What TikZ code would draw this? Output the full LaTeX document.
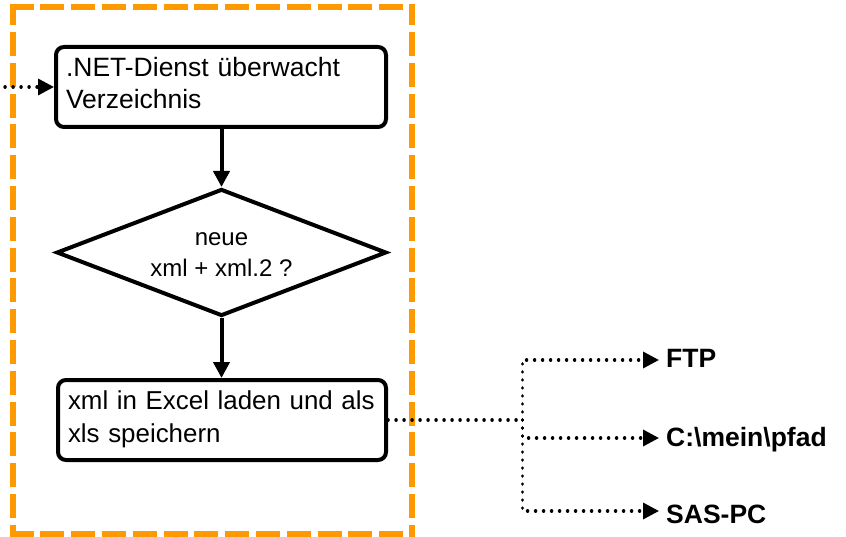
\documentclass[tikz,border=0pt]{standalone}
\usepackage{fontspec}
\setmainfont{Liberation Sans}
\usetikzlibrary{arrows.meta,shapes.geometric}
\definecolor{frameorange}{RGB}{255,153,0}
\tikzset{
  x=1pt,y=1pt,
  framedash/.style={draw=frameorange,line width=6pt,dash pattern=on 24pt off 6.8pt},
  stepbox/.style={draw=black,line width=4pt,rounded corners=8pt,fill=white,minimum height=80pt,
    inner sep=0pt,align=left,text depth=41pt,font=\fontsize{26.5}{32.8}\selectfont},
  decision/.style={draw=black,line width=4pt,diamond,fill=white,minimum width=330pt,minimum height=127pt,aspect=2.6,
    inner sep=0pt,align=center,text height=49pt,font=\fontsize{24}{31}\selectfont},
  solidflow/.style={draw=black,line width=4pt,-{Triangle[length=16pt,width=16pt]},shorten >=0pt},
  dotflow/.style={draw=black,line width=3.4pt,line cap=round,dash pattern=on 0.1pt off 7.9pt},
  dotarrow/.style={dotflow,-{Triangle[length=16pt,width=16pt]}},
  target/.style={anchor=west,inner sep=0pt,inner xsep=7pt,font=\fontsize{26.5}{27}\selectfont\bfseries},
}
\begin{document}
\begin{tikzpicture}
\useasboundingbox (0,0) rectangle (846,-537);
% orange dashed frame
\draw[framedash] (9.5,-7) -- (415,-7);
\draw[framedash] (9.5,-534) -- (415,-534);
\draw[framedash,dash phase=2.8pt] (13,-4) -- (13,-537);
\draw[framedash,dash phase=2.8pt] (412,-4) -- (412,-537);
% nodes
\node[stepbox,minimum width=330pt,text width=310pt] (dienst) at (221,-87) {.NET-Dienst überwacht\\Verzeichnis};
\node[decision] (frage) at (221.5,-252.5) {neue\\xml + xml.2 ?};
\node[stepbox,minimum width=328pt,text width=308pt,text depth=40pt,font=\fontsize{25.9}{32.8}\selectfont] (excel) at (222,-420) {xml in Excel laden und als\\xls speichern};
\coordinate (start) at (5,-87);
\coordinate (j) at (522.5,-420);
\node[target,text height=18pt,text depth=4pt] (ftp) at (659,-360) {FTP};
\node[target,text height=20pt,text depth=4pt] (pfad) at (659,-438) {C:\textbackslash mein\textbackslash pfad};
\node[target,text height=26pt,text depth=2pt] (sas) at (659,-511) {SAS-PC};
% connectors
\draw[solidflow] (dienst.south -| frage.north) -- (frage.north);
\draw[solidflow] (frage.south) -- (frage.south |- excel.north);
\draw[dotarrow] (start) -- (dienst.west);
\draw[dotflow] (excel.east) -- (j);
\draw[dotarrow] (j) |- (ftp.west);
\draw[dotarrow] (j) |- (pfad.west);
\draw[dotarrow] (j) |- (sas.west);
\end{tikzpicture}
\end{document}
